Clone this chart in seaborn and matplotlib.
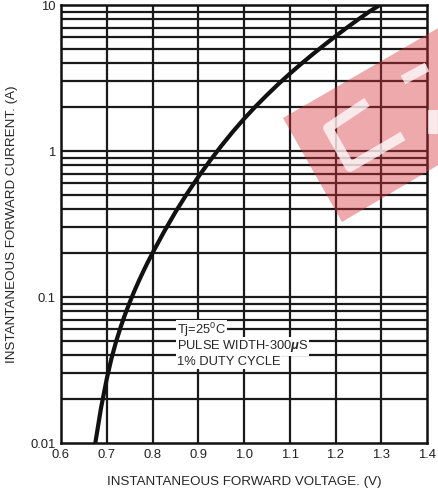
import numpy as np
import pandas as pd
import matplotlib
matplotlib.use("Agg")
import matplotlib.pyplot as plt
import seaborn as sns
from matplotlib.patches import Polygon
from matplotlib.lines import Line2D

# forward characteristic
voltage = [0.675, 0.6875, 0.700, 0.710, 0.720, 0.730, 0.740, 0.750, 0.760,
           0.770, 0.780, 0.790, 0.800, 0.825, 0.850, 0.875, 0.900, 0.925,
           0.950, 0.975, 1.000, 1.025, 1.050, 1.075, 1.100, 1.125, 1.150,
           1.175, 1.200, 1.225, 1.250, 1.275, 1.297]
current = [0.0100, 0.0174, 0.0275, 0.0376, 0.0490, 0.0617, 0.0759, 0.0916, 0.1092,
           0.1285, 0.1500, 0.1738, 0.2000, 0.279, 0.381, 0.508, 0.664, 0.853,
           1.080, 1.349, 1.660, 2.014, 2.415, 2.871, 3.381, 3.954, 4.592,
           5.309, 6.109, 6.998, 7.980, 9.057, 10.00]

x_ticks = [0.6, 0.7, 0.8, 0.9, 1.0, 1.1, 1.2, 1.3, 1.4]
y_ticks = [0.01, 0.1, 1, 10]
y_tick_labels = ["0.01", "0.1", "1", "10"]
note_lines = ["Tj=25$^0$C", "PULSE WIDTH-300$\\mu$S", "1% DUTY CYCLE"]
note_y = [0.0592, 0.0459, 0.0357]

sns.set_style("white")
plt.rcParams['font.family'] = ['Liberation Sans', 'DejaVu Sans']
plt.rcParams['mathtext.fontset'] = 'custom'
plt.rcParams['mathtext.rm'] = 'Liberation Sans'
plt.rcParams['mathtext.it'] = 'Liberation Sans:italic:bold'

fig = plt.figure(figsize=(4.38, 4.93), dpi=100)
ax = fig.add_axes([61 / 438, 1 - 443 / 493, 366 / 438, 438 / 493])

df = pd.DataFrame({"V": voltage, "I": current})
ax.set_yscale("log")
ax.set_xlim(0.6, 1.4)
ax.set_ylim(0.01, 10)

# grid: every 0.1 V and every log minor step
grid_kw = dict(color="#1a1a1a", lw=1.6, zorder=1)
for xv in x_ticks[1:-1]:
    ax.axvline(xv, **grid_kw)
for dec in [0.01, 0.1, 1]:
    for m in range(1, 10):
        if dec * m > 0.01:
            ax.axhline(dec * m, **grid_kw)

sns.lineplot(data=df, x="V", y="I", ax=ax, color="#111111", lw=3.0,
             zorder=3, estimator=None, sort=False)

for txt, yv in zip(note_lines, note_y):
    ax.text(0.853, yv, txt, fontsize=9.3, va="center", ha="left", zorder=4,
            bbox=dict(facecolor="white", edgecolor="none", pad=0.8))

ax.set_xticks(x_ticks)
ax.set_xticklabels([f"{v:.1f}" for v in x_ticks])
ax.set_yticks(y_ticks)
ax.set_yticklabels(y_tick_labels)
ax.yaxis.set_minor_locator(matplotlib.ticker.NullLocator())
ax.tick_params(length=0, labelsize=9.4, colors="#222222", pad=4)
ax.set_xlabel("INSTANTANEOUS FORWARD VOLTAGE. (V)", fontsize=9.6, labelpad=11)
ax.set_ylabel("INSTANTANEOUS FORWARD CURRENT. (A)", fontsize=9.6, labelpad=9)
for s in ax.spines.values():
    s.set_color("#111111")
    s.set_linewidth(1.8)

# red watermark drawn over the chart
def fpt(x, y):
    return (x / 438, 1 - y / 493)

band = Polygon([fpt(283, 118), fpt(440, 27), fpt(440, 164), fpt(342, 222)],
               closed=True, transform=fig.transFigure, facecolor="#d8323c",
               edgecolor="none", alpha=0.42, zorder=10)
fig.patches.append(band)
for pts in [[(367, 102), (328, 128), (350, 167), (403, 136)],
            [(403, 80), (427, 67)],
            [(433, 110), (433, 134)]]:
    xs = [fpt(*p)[0] for p in pts]
    ys = [fpt(*p)[1] for p in pts]
    fig.lines.append(Line2D(xs, ys, transform=fig.transFigure, color="white",
                            lw=7, alpha=0.75, zorder=11, solid_capstyle="butt"))

fig.savefig("out.png", dpi=100)
